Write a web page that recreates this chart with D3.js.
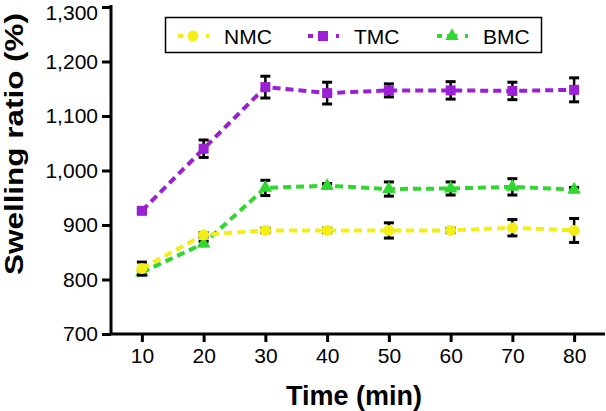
<!DOCTYPE html>
<html><head><meta charset="utf-8">
<script src="https://cdn.jsdelivr.net/npm/d3@7"></script>
<style>body{margin:0;background:#fff}svg{display:block}text{font-family:"Liberation Sans",Arial,sans-serif}</style>
</head><body>
<svg id="c" width="606" height="411"></svg>
<script>
const times = [10,20,30,40,50,60,70,80];
const seriesNames = ["NMC","TMC","BMC"];
const nmcValues = [820,882,890,890,890,890,895,890];
const nmcErrors = [12,4,4,4,14,4,15,22];
const tmcValues = [926,1040,1153,1142,1147,1147,1146,1148];
const tmcErrors = [4,16,20,20,12,16,16,22];
const bmcValues = [813,866,968,972,966,967,970,965];
const bmcErrors = [4,4,14,4,13,12,15,4];
const yTicks = [700,800,900,1000,1100,1200,1300];
const xTicks = [10,20,30,40,50,60,70,80];
const colors = {NMC:"#f3ee16", TMC:"#9b1fd3", BMC:"#2fd82f"};
const shapes = {NMC:d3.symbolCircle, TMC:d3.symbolSquare, BMC:d3.symbolTriangle};
const shapeSizes = {NMC:95, TMC:100, BMC:80};

const svg = d3.select("#c");
const x = d3.scaleLinear().domain([5,85]).range([111,605]);
const y = d3.scaleLinear().domain([700,1300]).range([334,7]);

// axes
const xAxis = svg.append("g").attr("transform","translate(0,334)")
  .call(d3.axisBottom(x).tickValues(xTicks).tickSize(8).tickSizeOuter(0).tickPadding(6));
const yAxis = svg.append("g").attr("transform","translate(111,0)")
  .call(d3.axisLeft(y).tickValues(yTicks).tickSize(9).tickSizeOuter(0).tickPadding(4).tickFormat(d3.format(",")));
[xAxis,yAxis].forEach(g=>{
  g.select(".domain").attr("stroke","#000").attr("stroke-width",3);
  g.selectAll(".tick line").attr("stroke","#000").attr("stroke-width",3);
  g.selectAll(".tick text").attr("fill","#000").style("font-size","21px").style("font-family","'Liberation Sans',Arial,sans-serif");
});
yAxis.selectAll(".tick text").filter(d=>d===1300).attr("dy","0.6em");
xAxis.select(".domain").attr("d","M111,0H605");
yAxis.select(".domain").attr("d","M0,335V5");

svg.append("text").attr("x",354).attr("y",405).attr("text-anchor","middle")
  .style("font-size","27px").style("font-weight","bold").text("Time (min)");
svg.append("text").attr("transform","translate(23,144) rotate(-90)").attr("text-anchor","middle")
  .attr("textLength",262).attr("lengthAdjust","spacingAndGlyphs")
  .style("font-size","25px").style("font-weight","bold").text("Swelling ratio (%)");

const data = {
  NMC: times.map((t,i)=>({t, v:nmcValues[i], e:nmcErrors[i]})),
  TMC: times.map((t,i)=>({t, v:tmcValues[i], e:tmcErrors[i]})),
  BMC: times.map((t,i)=>({t, v:bmcValues[i], e:bmcErrors[i]}))
};
const line = d3.line().x(d=>x(d.t)).y(d=>y(d.v));
const order = ["TMC","BMC","NMC"];
order.forEach(name=>{
  svg.append("path").datum(data[name]).attr("d",line).attr("fill","none")
    .attr("stroke",colors[name]).attr("stroke-width",4).attr("stroke-dasharray","8,5");
});
order.forEach(name=>{
  const g = svg.append("g");
  data[name].forEach(d=>{
    const cx = x(d.t), y1 = y(d.v+d.e), y2 = y(d.v-d.e);
    g.append("line").attr("x1",cx).attr("x2",cx).attr("y1",y1).attr("y2",y2).attr("stroke","#000").attr("stroke-width",2.5);
    g.append("line").attr("x1",cx-5).attr("x2",cx+5).attr("y1",y1).attr("y2",y1).attr("stroke","#000").attr("stroke-width",3);
    g.append("line").attr("x1",cx-5).attr("x2",cx+5).attr("y1",y2).attr("y2",y2).attr("stroke","#000").attr("stroke-width",3);
  });
  g.selectAll("path.m").data(data[name]).enter().append("path")
    .attr("transform",d=>`translate(${x(d.t)},${y(d.v)})`)
    .attr("d",d3.symbol().type(shapes[name]).size(shapeSizes[name]))
    .attr("fill",colors[name]);
});

// legend
svg.append("rect").attr("x",165.5).attr("y",17.5).attr("width",376).attr("height",35)
  .attr("fill","#fff").attr("stroke","#000").attr("stroke-width",1.5);
const legX = [193,323,452];
seriesNames.forEach((name,i)=>{
  const cx = legX[i], cy = 36;
  svg.append("line").attr("x1",cx-15).attr("x2",cx+17).attr("y1",cy).attr("y2",cy)
    .attr("stroke",colors[name]).attr("stroke-width",4).attr("stroke-dasharray","5,5,10,8,3");
  svg.append("path").attr("transform",`translate(${cx},${cy})`)
    .attr("d",d3.symbol().type(shapes[name]).size(shapeSizes[name])).attr("fill",colors[name]);
  svg.append("text").attr("x",cx+31).attr("y",cy+7.5).style("font-size","21px").text(name);
});
</script>
</body></html>
